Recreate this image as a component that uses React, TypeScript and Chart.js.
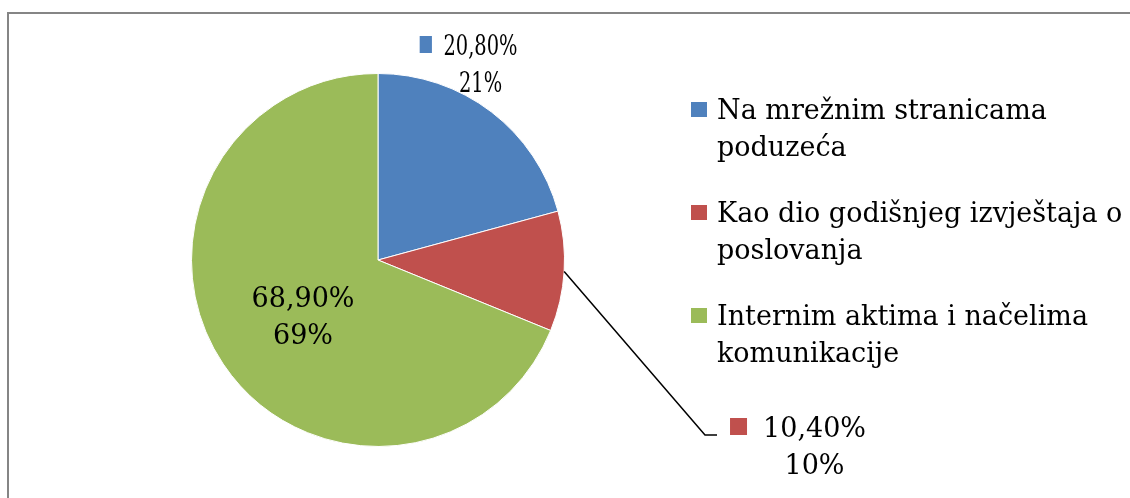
import React, { useEffect, useRef } from "react";
import { Chart, registerables } from "chart.js";

Chart.register(...registerables);

const categories: string[] = [
  "Na mrežnim stranicama poduzeća",
  "Kao dio godišnjeg izvještaja o poslovanja",
  "Internim aktima i načelima komunikacije",
];
const values: number[] = [20.8, 10.4, 68.9];
const roundedPct: number[] = [21, 10, 69];
const colors: string[] = ["#4F81BD", "#C0504D", "#9BBB59"];

const FONT = "27px 'DejaVu Serif'";

// label layout relative to the pie center (style/positioning only)
const labelLayout = [
  { dx: 102.5, dy: -205, sx: 0.72, marker: true, leader: false },
  { dx: 436.5, dy: 177, sx: 1, marker: true, leader: true },
  { dx: -75, dy: 47, sx: 1, marker: false, leader: false },
];

function fmtPct(v: number): string {
  return v.toFixed(2).replace(".", ",") + "%";
}

function wrap(ctx: CanvasRenderingContext2D, text: string, maxW: number): string[] {
  const words = text.split(" ");
  const lines: string[] = [];
  let cur = "";
  for (const w of words) {
    const t = cur ? cur + " " + w : w;
    if (ctx.measureText(t).width > maxW && cur) {
      lines.push(cur);
      cur = w;
    } else cur = t;
  }
  if (cur) lines.push(cur);
  return lines;
}

const framePlugin = {
  id: "frame",
  beforeDraw(chart: any) {
    const ctx = chart.ctx;
    ctx.save();
    ctx.fillStyle = "#ffffff";
    ctx.fillRect(0, 0, chart.width, chart.height);
    ctx.strokeStyle = "#858585";
    ctx.lineWidth = 2;
    ctx.beginPath();
    ctx.moveTo(8, chart.height + 5);
    ctx.lineTo(8, 13);
    ctx.lineTo(chart.width + 5, 13);
    ctx.stroke();
    ctx.restore();
  },
};

const labelsPlugin = {
  id: "pieLabels",
  afterDatasetsDraw(chart: any) {
    const ctx: CanvasRenderingContext2D = chart.ctx;
    const meta = chart.getDatasetMeta(0);
    ctx.save();
    ctx.font = FONT;
    ctx.textBaseline = "alphabetic";
    meta.data.forEach((arc: any, i: number) => {
      const { x: cx, y: cy, startAngle, endAngle, outerRadius } = arc.getProps(
        ["x", "y", "startAngle", "endAngle", "outerRadius"],
        true
      );
      const L = labelLayout[i];
      const ax = cx + L.dx;
      const ay = cy + L.dy;
      if (L.leader) {
        const mid = (startAngle + endAngle) / 2;
        const px = cx + outerRadius * Math.cos(mid);
        const py = cy + outerRadius * Math.sin(mid);
        ctx.strokeStyle = "#000000";
        ctx.lineWidth = 1.5;
        ctx.beginPath();
        ctx.moveTo(px, py);
        ctx.lineTo(cx + 327, cy + 175);
        ctx.lineTo(cx + 339, cy + 175);
        ctx.stroke();
      }
      const l1 = fmtPct(values[i]);
      const l2 = roundedPct[i] + "%";
      ctx.save();
      ctx.translate(ax, ay);
      ctx.scale(L.sx, 1);
      ctx.fillStyle = "#000000";
      ctx.textAlign = "center";
      const w = ctx.measureText(l1).width;
      ctx.fillText(l1, 0, 0);
      ctx.fillText(l2, 0, 37);
      if (L.marker) {
        ctx.fillStyle = colors[i];
        ctx.fillRect(-w / 2 - 16 - 17, -19, 17, 17);
      }
      ctx.restore();
    });

    // legend
    const lx = 691;
    const tx = 717;
    let by = 119;
    categories.forEach((c, i) => {
      const lines = wrap(ctx, c, 410);
      ctx.fillStyle = colors[i];
      ctx.fillRect(lx, by - 17, 16, 15);
      ctx.fillStyle = "#000000";
      ctx.textAlign = "left";
      lines.forEach((ln, k) => ctx.fillText(ln, tx, by + k * 37));
      by += 103;
    });
    ctx.restore();
  },
};

export default function App() {
  const ref = useRef<HTMLCanvasElement | null>(null);
  useEffect(() => {
    if (!ref.current) return;
    const chart = new Chart(ref.current, {
      type: "pie",
      data: {
        labels: categories,
        datasets: [
          {
            data: values,
            backgroundColor: colors,
            borderColor: "#ffffff",
            borderWidth: 1,
            hoverOffset: 0,
            offset: 0,
          },
        ],
      },
      options: {
        responsive: false,
        animation: false,
        layout: { padding: { left: 191, top: 73, right: 565, bottom: 51 } },
        plugins: {
          legend: { display: false },
          tooltip: { enabled: false },
          title: { display: false },
        },
      },
      plugins: [framePlugin, labelsPlugin],
    });
    return () => chart.destroy();
  }, []);
  return (
    <div style={{ position: "fixed", left: 0, top: 0, width: 1130, height: 498, background: "#fff" }}>
      <canvas ref={ref} width={1130} height={498} style={{ display: "block" }} />
    </div>
  );
}
